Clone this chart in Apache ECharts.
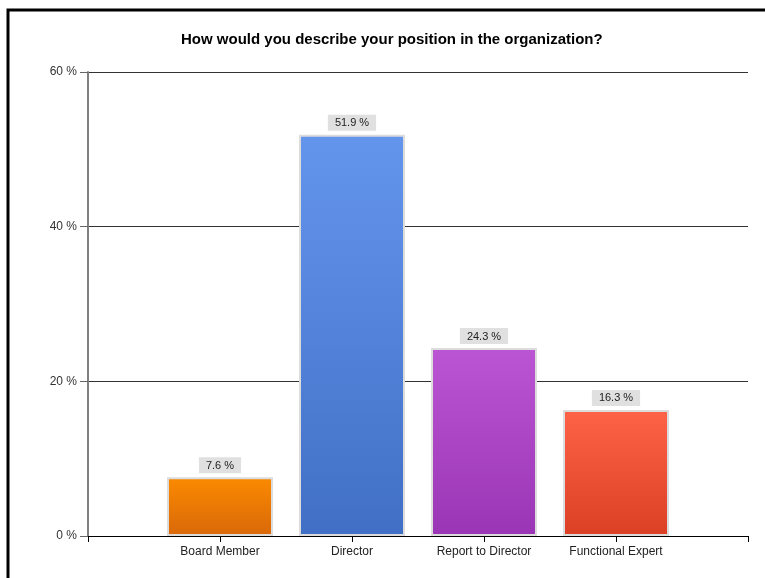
<!DOCTYPE html>
<html lang="en">
<head>
    <meta charset="UTF-8">
    <title>Position in the organization</title>
    <script src="https://cdn.jsdelivr.net/npm/echarts@6/dist/echarts.min.js"></script>
    <style>
        html, body {
            margin: 0;
            padding: 0;
            background: #fff;
        }

        #chart {
            width: 765px;
            height: 578px;
        }
    </style>
</head>
<body>
<div id="chart"></div>
<script>
    // empty slots at both ends keep the bars centred on the ticks like the original
    var categories = ['', 'Board Member', 'Director', 'Report to Director', 'Functional Expert', ''];
    var values = ['-', 7.6, 51.9, 24.3, 16.3, '-'];
    var topColors = ['#fff', '#fb8a00', '#6495ed', '#bb55d3', '#ff6347', '#fff'];
    var bottomColors = ['#fff', '#d9680a', '#416fc6', '#9a35b5', '#dc4024', '#fff'];
    var yTicks = [0, 20, 40, 60];

    var font = '"Liberation Sans", Arial, sans-serif';

    var barData = [];
    for (var i = 0; i < values.length; ++i) {
        barData.push({
            value: values[i],
            itemStyle: {
                color: new echarts.graphic.LinearGradient(0, 0, 0, 1, [
                    {offset: 0, color: topColors[i]},
                    {offset: 1, color: bottomColors[i]}
                ])
            }
        });
    }

    var chart = echarts.init(document.getElementById('chart'), null, {renderer: 'canvas'});
    chart.setOption({
        animation: false,
        backgroundColor: '#fff',
        title: {
            text: 'How would you describe your position in the organization?',
            left: 176,
            top: 27,
            textStyle: {
                fontFamily: font,
                fontSize: 15,
                fontWeight: 'bold',
                color: '#000'
            }
        },
        graphic: [{
            type: 'rect',
            shape: {x: 8, y: 10, width: 800, height: 600},
            style: {fill: 'none', stroke: '#000', lineWidth: 3},
            silent: true
        }],
        grid: {
            left: 88,
            right: 17,
            top: 72,
            bottom: 42
        },
        xAxis: {
            type: 'category',
            data: categories,
            boundaryGap: false,
            axisLine: {lineStyle: {color: '#000', width: 1}},
            axisTick: {show: true, length: 6, interval: 0, lineStyle: {color: '#000'}},
            axisLabel: {
                interval: 0,
                margin: 10,
                fontFamily: font,
                fontSize: 12,
                color: '#222'
            },
            splitLine: {show: false}
        },
        yAxis: {
            type: 'value',
            min: yTicks[0],
            max: yTicks[yTicks.length - 1],
            interval: 20,
            axisLine: {show: true, lineStyle: {color: '#808080', width: 2}},
            axisTick: {show: true, length: 8, lineStyle: {color: '#666'}},
            axisLabel: {
                margin: 11,
                fontFamily: font,
                fontSize: 12,
                color: '#333',
                formatter: '{value} %'
            },
            splitLine: {show: true, lineStyle: {color: '#333', width: 1}}
        },
        series: [{
            type: 'bar',
            data: barData,
            barWidth: 106,
            itemStyle: {
                borderColor: '#dcdcdc',
                borderWidth: 2
            },
            label: {
                show: true,
                position: 'top',
                distance: 4,
                formatter: '{c} %',
                fontFamily: font,
                fontSize: 11,
                color: '#222',
                backgroundColor: '#e0e0e0',
                padding: [3, 7, 2, 7]
            }
        }]
    });
</script>
</body>
</html>
